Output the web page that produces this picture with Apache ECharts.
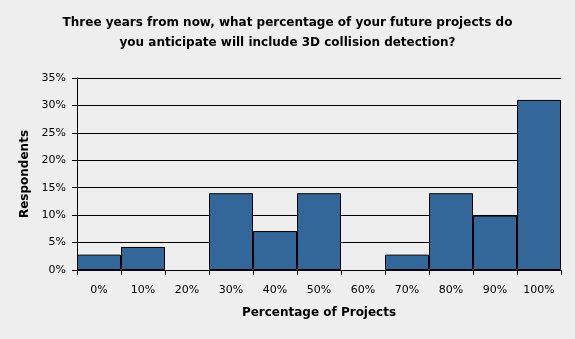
<!DOCTYPE html>
<html>
<head>
<meta charset="utf-8">
<script src="https://cdn.jsdelivr.net/npm/echarts@6/dist/echarts.min.js"></script>
<style>
  html, body { margin: 0; padding: 0; background: #eeeeee; }
  #chart { width: 575px; height: 339px; }
</style>
</head>
<body>
<div id="chart"></div>
<script>
// Survey answers: share of respondents per anticipated percentage of projects
const categories = ['0%', '10%', '20%', '30%', '40%', '50%', '60%', '70%', '80%', '90%', '100%'];
const respondents = [2.8, 4.2, 0, 14, 7.1, 14, 0, 2.8, 14, 9.9, 31];
const yTicks = [0, 5, 10, 15, 20, 25, 30, 35];

const chart = echarts.init(document.getElementById('chart'));
const font = 'DejaVu Sans, Verdana, sans-serif';

// Empty categories get no outline so nothing shows along the baseline
const barData = respondents.map(v => v === 0
  ? { value: v, itemStyle: { borderWidth: 0 } }
  : v);

chart.setOption({
  backgroundColor: '#eeeeee',
  animation: false,
  title: {
    text: 'Three years from now, what percentage of your future projects do\nyou anticipate will include 3D collision detection?',
    left: 'center',
    top: 8,
    textStyle: {
      fontFamily: font,
      fontSize: 12,
      fontWeight: 'bold',
      color: '#000',
      lineHeight: 20
    }
  },
  grid: { left: 77, right: 14, top: 78, bottom: 69, containLabel: false },
  xAxis: {
    type: 'category',
    data: categories,
    name: 'Percentage of Projects',
    nameLocation: 'middle',
    nameGap: 37,
    nameTextStyle: { fontFamily: font, fontSize: 12, fontWeight: 'bold', color: '#000' },
    axisLine: { lineStyle: { color: '#000', width: 1 } },
    axisTick: { show: true, length: 5, lineStyle: { color: '#000' }, alignWithLabel: false },
    axisLabel: { fontFamily: font, fontSize: 11, color: '#000', margin: 15 }
  },
  yAxis: {
    type: 'value',
    min: yTicks[0],
    max: yTicks[yTicks.length - 1],
    interval: 5,
    name: 'Respondents',
    nameLocation: 'middle',
    nameGap: 43,
    nameTextStyle: { fontFamily: font, fontSize: 12, fontWeight: 'bold', color: '#000' },
    axisLine: { show: true, lineStyle: { color: '#000', width: 1 } },
    axisTick: { show: true, length: 5, lineStyle: { color: '#000' } },
    axisLabel: { fontFamily: font, fontSize: 11, color: '#000', margin: 11, formatter: '{value}%' },
    splitLine: { show: true, lineStyle: { color: '#000', width: 1 } }
  },
  series: [{
    type: 'bar',
    data: barData,
    barCategoryGap: 0,
    itemStyle: { color: '#336699', borderColor: '#000', borderWidth: 1 }
  }]
});
</script>
</body>
</html>
